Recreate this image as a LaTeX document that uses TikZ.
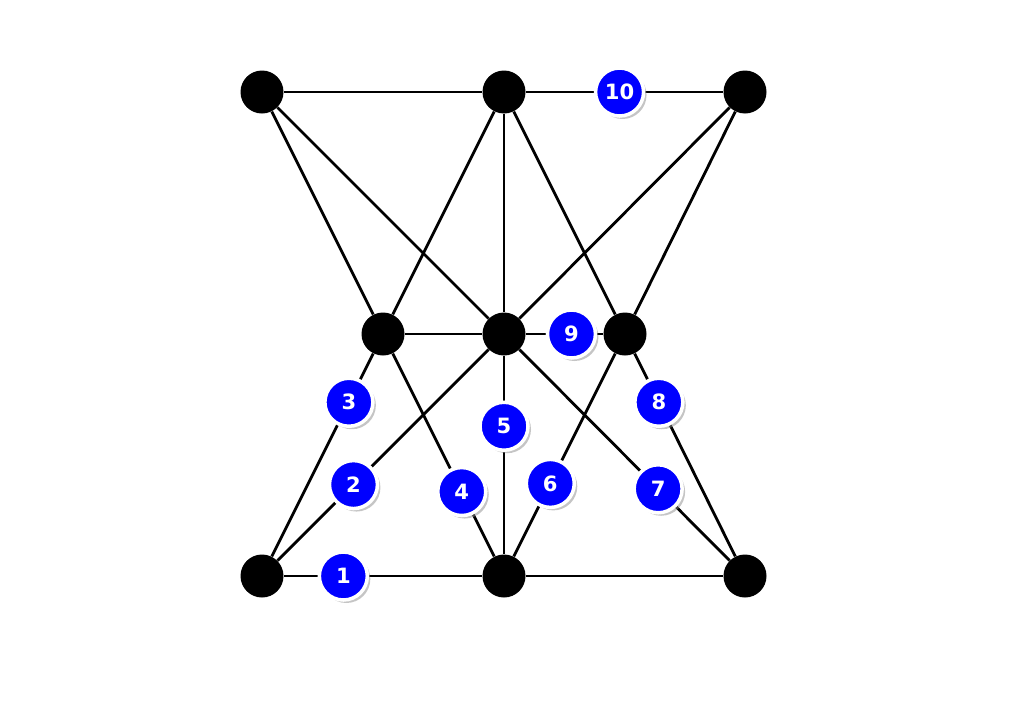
\documentclass[tikz,border=0pt]{standalone}
\usepackage{fontspec}
\newfontfamily\badgefont{DejaVu Sans}
\usepackage{tikz}
\usetikzlibrary{shadows}
\definecolor{bblue}{HTML}{0000FF}
\tikzstyle{vertex} = [circle, fill=black, minimum size=0.86cm, inner sep=0pt]
\tikzstyle{edge} = [draw, line width=1.6pt]
\tikzstyle{badge} = [circle, fill=bblue, draw=white, line width=2pt, minimum size=0.96cm, inner sep=0pt, text=white, font=\badgefont\bfseries\fontsize{12}{12}\selectfont, drop shadow={shadow xshift=0.06cm, shadow yshift=-0.06cm, fill=black!45, opacity=0.5}]

\begin{document}
\begin{tikzpicture}[x=0.02cm, y=-0.02cm]
    \useasboundingbox (0,0) rectangle (1024,704);
    % vertices
    \node[vertex] at (262, 92) (tl) {};
    \node[vertex] at (504, 92) (tm) {};
    \node[vertex] at (745, 92) (tr) {};
    \node[vertex] at (383, 334) (ml) {};
    \node[vertex] at (504, 334) (mc) {};
    \node[vertex] at (625, 334) (mr) {};
    \node[vertex] at (262, 576) (bl) {};
    \node[vertex] at (504, 576) (bm) {};
    \node[vertex] at (745, 576) (br) {};

    % plain edges
    \path[edge] (tl) to (tm);
    \path[edge] (tl) to (ml);
    \path[edge] (tl) to (mc);
    \path[edge] (tm) to (ml);
    \path[edge] (tm) to (mc);
    \path[edge] (tm) to (mr);
    \path[edge] (tr) to (mc);
    \path[edge] (tr) to (mr);
    \path[edge] (ml) to (mc);
    \path[edge] (bm) to (br);

    % numbered edges
    \path[edge] (bl) to node[badge, pos=0.30] {1} (bm);
    \path[edge] (mc) to node[badge, pos=0.64] {2} (bl);
    \path[edge] (ml) to node[badge, pos=0.24] {3} (bl);
    \path[edge] (ml) to node[badge, pos=0.68] {4} (bm);
    \path[edge] (mc) to node[badge, pos=0.355] {5} (bm);
    \path[edge] (mr) to node[badge, pos=0.64] {6} (bm);
    \path[edge] (mc) to node[badge, pos=0.66] {7} (br);
    \path[edge] (mr) to node[badge, pos=0.24] {8} (br);
    \path[edge] (mc) to node[badge, pos=0.59] {9} (mr);
    \path[edge] (tm) to node[badge, pos=0.475] {10} (tr);
\end{tikzpicture}
\end{document}
